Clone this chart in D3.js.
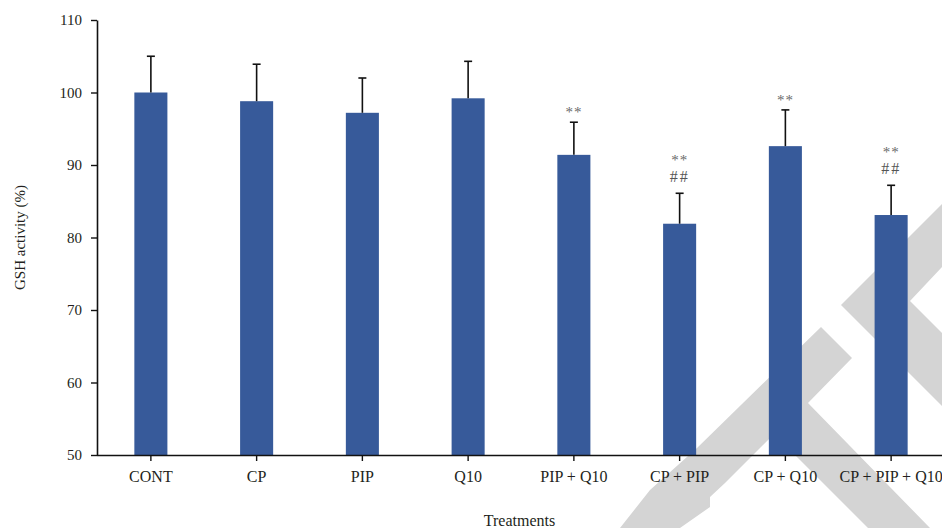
<!DOCTYPE html>
<html>
<head>
<meta charset="utf-8">
<script src="https://cdn.jsdelivr.net/npm/d3@7"></script>
<style>
  html, body { margin: 0; padding: 0; background: #fff; }
  svg { display: block; font-family: "Liberation Serif", "Times New Roman", serif; }
</style>
</head>
<body>
<svg id="chart" width="942" height="528"></svg>
<script>
// GSH activity (% of control) per treatment group, mean and SD
const treatments = ["CONT", "CP", "PIP", "Q10", "PIP + Q10", "CP + PIP", "CP + Q10", "CP + PIP + Q10"];
const gshMean = [100.0, 98.8, 97.2, 99.2, 91.4, 81.9, 92.6, 83.1];
const gshSD = [5.0, 5.1, 4.8, 5.1, 4.5, 4.2, 5.0, 4.1];
// significance marks: ** vs control, ## vs CP
const starMarks = ["", "", "", "", "**", "**", "**", "**"];
const hashMarks = ["", "", "", "", "", "##", "", "##"];
const yTicks = [50, 60, 70, 80, 90, 100, 110];

(function draw() {
  const svg = d3.select("#chart");
  const W = 942;
  const mLeft = 97, mRight = 944, mTop = 20, mBottom = 455;

  // background logo watermark
  const wm = svg.append("g").attr("fill", "#d4d4d4");
  wm.append("path").attr("d",
    "M620,528 L650,490 L697,448 L821,327 L852,358 L808,403 L930,528 L868,528 " +
    "L774,434 L725,483 L710,497 L710,507 L680,528 Z");
  wm.append("path").attr("d",
    "M841,305 L942,204 L942,267 L910,301 L942,333 L942,406 Z");

  const x = d3.scaleBand()
    .domain(treatments)
    .range([mLeft + 1, mRight])
    .paddingInner(0.6875)
    .paddingOuter(0.34375);

  const y = d3.scaleLinear()
    .domain([50, 110])
    .range([mBottom, mTop]);

  const rows = treatments.map((t, i) => ({
    t, mean: gshMean[i], sd: gshSD[i], star: starMarks[i], hash: hashMarks[i]
  }));

  // bars
  svg.append("g").selectAll("rect")
    .data(rows).join("rect")
    .attr("x", d => x(d.t))
    .attr("width", x.bandwidth())
    .attr("y", d => y(d.mean))
    .attr("height", d => y(50) - y(d.mean))
    .attr("fill", "#375a9a");

  // upper error bars
  const err = svg.append("g").attr("stroke", "#111").attr("stroke-width", 1.6);
  err.selectAll("line.v")
    .data(rows).join("line")
    .attr("class", "v")
    .attr("x1", d => x(d.t) + x.bandwidth() / 2)
    .attr("x2", d => x(d.t) + x.bandwidth() / 2)
    .attr("y1", d => y(d.mean))
    .attr("y2", d => y(d.mean + d.sd));
  err.selectAll("line.cap")
    .data(rows).join("line")
    .attr("class", "cap")
    .attr("x1", d => x(d.t) + x.bandwidth() / 2 - 4)
    .attr("x2", d => x(d.t) + x.bandwidth() / 2 + 4)
    .attr("y1", d => y(d.mean + d.sd))
    .attr("y2", d => y(d.mean + d.sd));

  // significance marks
  const marks = svg.append("g").attr("text-anchor", "middle");
  rows.forEach(d => {
    const cx = x(d.t) + x.bandwidth() / 2;
    const errTop = y(d.mean + d.sd);
    let starY = errTop - 5;
    if (d.hash) {
      const hashY = errTop - 11;
      marks.append("text")
        .attr("x", cx).attr("y", hashY)
        .attr("font-size", 16)
        .attr("letter-spacing", 2)
        .attr("fill", "#555")
        .text(d.hash);
      starY = hashY - 17;
    }
    if (d.star) {
      marks.append("text")
        .attr("x", cx).attr("y", starY)
        .attr("font-size", 15)
        .attr("letter-spacing", 1)
        .attr("fill", "#6a6a6a")
        .text(d.star);
    }
  });

  // axes
  const yAxis = svg.append("g")
    .attr("transform", `translate(${mLeft},0)`)
    .call(d3.axisLeft(y).tickValues(yTicks).tickSize(6).tickSizeOuter(0).tickPadding(9).tickFormat(d3.format("d")));
  yAxis.selectAll("text").attr("font-size", 15).attr("fill", "#231f20");

  const xAxis = svg.append("g")
    .attr("transform", `translate(0,${mBottom})`)
    .call(d3.axisBottom(x).tickSize(6).tickSizeOuter(0).tickPadding(10));
  xAxis.select(".domain").attr("d", `M${mLeft},0.5H${W}`);
  xAxis.selectAll("text").attr("font-size", 16).attr("fill", "#231f20");

  [yAxis, xAxis].forEach(a => {
    a.attr("font-family", null).attr("font-size", null);
    a.select(".domain").attr("stroke", "#111").attr("stroke-width", 1.6);
    a.selectAll(".tick line").attr("stroke", "#111").attr("stroke-width", 1.4);
  });

  // axis titles
  svg.append("text")
    .attr("transform", `translate(25,${(mTop + mBottom) / 2}) rotate(-90)`)
    .attr("text-anchor", "middle")
    .attr("font-size", 15)
    .attr("fill", "#231f20")
    .text("GSH activity (%)");

  svg.append("text")
    .attr("x", (mLeft + W) / 2)
    .attr("y", 526)
    .attr("text-anchor", "middle")
    .attr("font-size", 16)
    .attr("fill", "#231f20")
    .text("Treatments");
})();
</script>
</body>
</html>
